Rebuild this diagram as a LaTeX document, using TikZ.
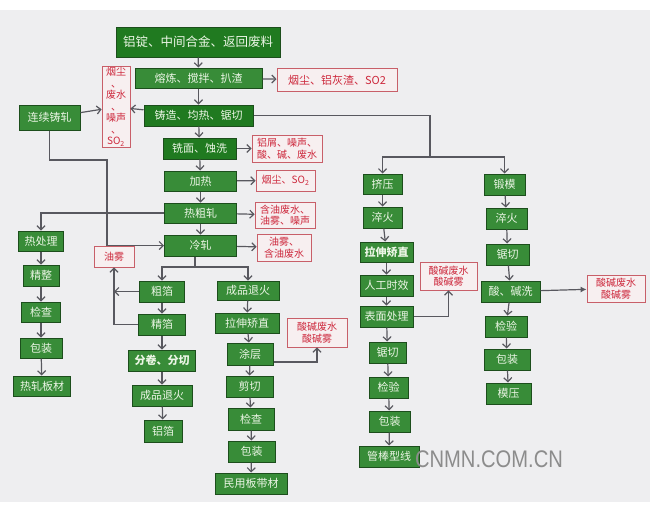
\documentclass[tikz,border=0pt]{standalone}
\usepackage{fontspec}
\setmainfont{Noto Sans CJK SC}
\newfontfamily\wmfont{Liberation Sans}
\usepackage{xcolor}
\usepackage{tikz}
\usetikzlibrary{arrows.meta, positioning, calc}

\definecolor{bggray}{RGB}{238,238,240}
\definecolor{boxgreen}{RGB}{56,140,56}
\definecolor{darkgreen}{RGB}{32,122,32}
\definecolor{boxline}{RGB}{28,78,28}
\definecolor{boxtext}{RGB}{236,246,230}
\definecolor{redline}{RGB}{200,95,105}
\definecolor{redfill}{RGB}{247,239,240}
\definecolor{redtext}{RGB}{205,40,60}
\definecolor{arrgray}{RGB}{88,88,95}

\begin{document}
\begin{tikzpicture}[x=1pt, y=-1pt,
    box/.style={draw=boxline, fill=boxgreen, text=boxtext, line width=1pt,
        inner sep=0pt, minimum height=21pt, font=\fontsize{11}{13}\selectfont},
    darkbox/.style={box, fill=darkgreen},
    redbox/.style={draw=redline, fill=redfill, text=redtext, line width=0.8pt,
        inner sep=0pt, align=center, font=\fontsize{10}{11.5}\selectfont},
    arr/.style={draw=arrgray, line width=1.2pt, -{Straight Barb[length=4pt, width=8pt]}},
    line/.style={draw=arrgray, line width=1.2pt}]
    \useasboundingbox (0,0) rectangle (650,509);
    \fill[white] (0,0) rectangle (650,509);
    \fill[bggray] (0,10) rectangle (650,502);

    % 主线
    \node[darkbox, minimum width=164, minimum height=30, font=\fontsize{12.5}{14}\selectfont] (raw) at (198,42) {铝锭、中间合金、返回废料};
    \node[box, minimum width=127, minimum height=20] (melt) at (198.5,78) {熔炼、搅拌、扒渣};
    \node[redbox, minimum width=120, minimum height=23, font=\fontsize{11}{13}\selectfont] (fume1) at (337,80) {烟尘、铝灰渣、SO2};
    \node[darkbox, minimum width=109] (cast) at (198.5,115.5) {铸造、均热、锯切};
    \node[redbox, minimum width=28, minimum height=81] (waste1) at (116,107) {烟尘\\、\\废水\\、\\噪声\\、\\SO\textsubscript{2}};
    \node[box, minimum width=61, minimum height=25] (contcast) at (49.5,117.5) {连续铸轧};
    \node[darkbox, minimum width=73] (mill) at (199.5,148.5) {铣面、蚀洗};
    \node[redbox, minimum width=70, minimum height=27] (fume2) at (287,148.5) {铝屑、噪声、\\酸、碱、废水};
    \node[box, minimum width=72, minimum height=20] (heat) at (200.5,181) {加热};
    \node[redbox, minimum width=59, minimum height=21] (fume3) at (285.5,180.5) {烟尘、SO\textsubscript{2}};
    \node[box, minimum width=72, minimum height=20] (hotroll) at (200.5,213) {热粗轧};
    \node[redbox, minimum width=60, minimum height=26] (fume4) at (285,215) {含油废水、\\油雾、噪声};
    \node[box, minimum width=72] (coldroll) at (200.5,245.5) {冷轧};
    \node[redbox, minimum width=54, minimum height=27] (fume5) at (284,247.5) {油雾、\\含油废水};
    \node[redbox, minimum width=40, minimum height=21] (oilmist) at (114,256.5) {油雾};

    % 热轧板材
    \node[box, minimum width=45, minimum height=20] (heattreat) at (41,241) {热处理};
    \node[box, minimum width=36] (finish) at (41,275.5) {精整};
    \node[box, minimum width=39, minimum height=20] (check1) at (41,312) {检查};
    \node[box, minimum width=42, minimum height=20] (pack1) at (41,348) {包装};
    \node[box, minimum width=57, minimum height=20] (hotplate) at (42,386) {热轧板材};

    % 铝箔
    \node[box, minimum width=45] (roughfoil) at (162,291.5) {粗箔};
    \node[box, minimum width=47] (finefoil) at (162,324.5) {精箔};
    \node[box, minimum width=67, font=\bfseries\fontsize{11}{13}\selectfont] (slit) at (162,360.5) {分卷、分切};
    \node[box, minimum width=60] (anneal2) at (162,395.5) {成品退火};
    \node[box, minimum width=38, minimum height=22] (alfoil) at (163,431) {铝箔};

    % 民用板带材
    \node[box, minimum width=62, minimum height=19] (anneal1) at (248,290.5) {成品退火};
    \node[box, minimum width=64, minimum height=20] (stretch1) at (247,323) {拉伸矫直};
    \node[redbox, minimum width=60, minimum height=29] (acid1) at (317,332.5) {酸碱废水\\酸碱雾};
    \node[box, minimum width=46, minimum height=22] (coat) at (250,354) {涂层};
    \node[box, minimum width=47] (shear) at (249.5,386.5) {剪切};
    \node[box, minimum width=46, minimum height=22] (check2) at (251,419) {检查};
    \node[box, minimum width=47] (pack2) at (251.5,451.5) {包装};
    \node[box, minimum width=72] (civil) at (251,483.5) {民用板带材};

    % 管棒型线
    \node[box, minimum width=39, minimum height=20] (extrude) at (382.5,184) {挤压};
    \node[box, minimum width=39] (quench1) at (382.5,217.5) {淬火};
    \node[box, minimum width=53, minimum height=20, font=\bfseries\fontsize{11}{13}\selectfont] (stretch2) at (386.5,252) {拉伸矫直};
    \node[box, minimum width=53] (aging) at (386.5,285.5) {人工时效};
    \node[box, minimum width=53] (surface) at (386.5,316.5) {表面处理};
    \node[redbox, minimum width=57, minimum height=28] (acid2) at (448.5,276) {酸碱废水\\酸碱雾};
    \node[box, minimum width=37] (saw1) at (387.5,352.5) {锯切};
    \node[box, minimum width=39] (inspect1) at (388.5,387.5) {检验};
    \node[box, minimum width=41] (pack3) at (389.5,421.5) {包装};
    \node[box, minimum width=60] (tube) at (389,456.5) {管棒型线};

    % 模压
    \node[box, minimum width=41] (forge) at (504.5,184.5) {锻模};
    \node[box, minimum width=41] (quench2) at (506.5,218.5) {淬火};
    \node[box, minimum width=43] (saw2) at (507.5,254.5) {锯切};
    \node[box, minimum width=59] (wash) at (510.5,291.5) {酸、碱洗};
    \node[redbox, minimum width=58, minimum height=27] (acid3) at (616,288.5) {酸碱废水\\酸碱雾};
    \node[box, minimum width=42] (inspect2) at (506,326.5) {检验};
    \node[box, minimum width=46] (pack4) at (507,359.5) {包装};
    \node[box, minimum width=45] (mould) at (508.5,393.5) {模压};

    % 转折点
    \coordinate (split1) at (430,157);
    \coordinate (turn1) at (107,160);
    \coordinate (split2) at (195,267);

    % 主线箭头
    \draw[arr] (raw) -- (melt);
    \draw[arr] (melt) -- (cast);
    \draw[arr] (cast) -- (mill);
    \draw[arr] (mill) -- (heat);
    \draw[arr] (heat) -- (hotroll);
    \draw[arr] (hotroll) -- (coldroll);
    \draw[arr] (melt) -- (fume1);
    \draw[arr] (mill) -- (fume2);
    \draw[arr] (heat) -- (fume3);
    \draw[arr] (hotroll) -- (fume4);
    \draw[arr] (coldroll) -- (fume5);
    \draw[arr] (contcast) -- (waste1);
    \draw[arr] (cast) -- (waste1);
    \draw[arr] (contcast.south) |- (turn1) |- (coldroll.west);

    % 分支
    \draw[line] (cast.east) -| (split1);
    \draw[arr] (split1) -| (extrude.north);
    \draw[arr] (split1) -| (forge.north);
    \draw[arr] (hotroll.west) -| (heattreat.north);
    \draw[line] (split2 |- coldroll.south) -- (split2);
    \draw[arr] (split2) -| (roughfoil.north);
    \draw[arr] (split2) -| (anneal1.north);

    % 热轧板材
    \draw[arr] (heattreat) -- (finish);
    \draw[arr] (finish) -- (check1);
    \draw[arr] (check1) -- (pack1);
    \draw[arr] (pack1) -- (hotplate);

    % 铝箔
    \draw[arr] (roughfoil) -- (finefoil);
    \draw[arr] (finefoil) -- (slit);
    \draw[arr] (slit) -- (anneal2);
    \draw[arr] (anneal2) -- (alfoil);
    \draw[arr] (roughfoil.west) -- (oilmist.south |- roughfoil.west);
    \draw[arr] (finefoil.west) -| (oilmist.south);

    % 民用板带材
    \draw[arr] (anneal1) -- (stretch1);
    \draw[arr] (stretch1) -- (coat);
    \draw[arr] (coat) -- (shear);
    \draw[arr] (shear) -- (check2);
    \draw[arr] (check2) -- (pack2);
    \draw[arr] (pack2) -- (civil);
    \draw[arr] ($(coat.east)+(0,8)$) -| (acid1.south);

    % 管棒型线
    \draw[arr] (extrude) -- (quench1);
    \draw[arr] (quench1) -- (stretch2);
    \draw[arr] (stretch2) -- (aging);
    \draw[arr] (aging) -- (surface);
    \draw[arr] (surface) -- (saw1);
    \draw[arr] (saw1) -- (inspect1);
    \draw[arr] (inspect1) -- (pack3);
    \draw[arr] (pack3) -- (tube);
    \draw[arr] (surface.east) -| (acid2.south);

    % 模压
    \draw[arr] (forge) -- (quench2);
    \draw[arr] (quench2) -- (saw2);
    \draw[arr] (saw2) -- (wash);
    \draw[arr] (wash) -- (inspect2);
    \draw[arr] (inspect2) -- (pack4);
    \draw[arr] (pack4) -- (mould);
    \draw[draw=arrgray, line width=1.2pt, -{Latex[length=6pt, width=6pt]}] (wash) -- (acid3);

    % 水印
    \node[text=gray!90, xscale=0.84, font=\wmfont\fontsize{24}{24}\selectfont] (mark) at (489,459) {CNMN.COM.CN};
\end{tikzpicture}
\end{document}
